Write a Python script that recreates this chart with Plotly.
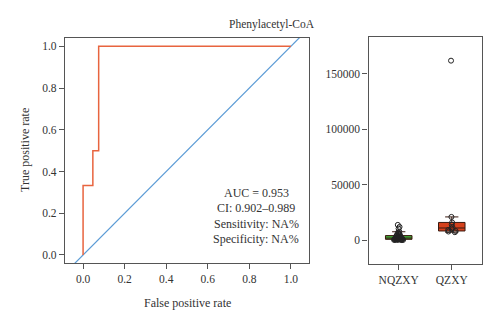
import plotly.graph_objects as go

# ---- data ----
roc_fpr = [0.0, 0.0, 0.047, 0.047, 0.075, 0.075, 1.0]
roc_tpr = [0.0, 0.333, 0.333, 0.5, 0.5, 1.0, 1.0]
diag = [-0.2, 1.2]
roc_ticks = [0.0, 0.2, 0.4, 0.6, 0.8, 1.0]
roc_title = "Phenylacetyl-CoA"
roc_stats = ["AUC = 0.953", "CI: 0.902\u20130.989", "Sensitivity: NA%", "Specificity: NA%"]

groups = ["NQZXY", "QZXY"]
nqzxy = [150, 220, 250, 300, 350, 420, 500, 580, 650, 720, 800, 900, 1000, 1100,
         1200, 1300, 1400, 1500, 1650, 1800, 1950, 2100, 2300, 2500, 2700, 2900,
         3100, 3400, 3700, 4000, 4300, 4600, 5000, 5500, 6000, 6800, 7600,
         10500, 12000, 13800]
qzxy = [7200, 7800, 8300, 9200, 10500, 11500, 14000, 16000, 21000, 162000]
box_ticks = [0, 50000, 100000, 150000]

FONT = "Liberation Serif"
FRAME = "#555555"
TXT = "#333333"

fig = go.Figure()

fig.add_trace(go.Scatter(x=diag, y=diag, mode="lines",
                         line=dict(color="#5B9BD5", width=1.2),
                         xaxis="x", yaxis="y", showlegend=False, hoverinfo="skip"))
fig.add_trace(go.Scatter(x=roc_fpr, y=roc_tpr, mode="lines",
                         line=dict(color="#E8643F", width=1.5),
                         xaxis="x", yaxis="y", showlegend=False))

box_cols = ["#3FA535", "#D5411C"]
for name, vals, col in zip(groups, [nqzxy, qzxy], box_cols):
    fig.add_trace(go.Box(y=vals, x=[name] * len(vals), name=name,
                         xaxis="x2", yaxis="y2",
                         fillcolor=col, line=dict(color="#3a1a10", width=1),
                         boxpoints="all", jitter=0.45, pointpos=0,
                         marker=dict(symbol="circle-open", color="#222222", size=5,
                                     line=dict(width=1)),
                         whiskerwidth=0.5, width=0.5, showlegend=False))

axis_common = dict(showgrid=False, zeroline=False, showline=True, mirror=True,
                   linecolor=FRAME, linewidth=1.2, ticks="outside", ticklen=5,
                   tickcolor=FRAME, tickfont=dict(family=FONT, size=11.5, color=TXT))

fig.update_layout(
    width=500, height=327,
    margin=dict(l=0, r=0, t=0, b=0),
    paper_bgcolor="white", plot_bgcolor="white",
    font=dict(family=FONT, color=TXT),
    xaxis=dict(domain=[0.130, 0.618], range=[-0.087, 1.087],
               tickvals=roc_ticks, tickformat=".1f", anchor="y", **axis_common),
    yaxis=dict(domain=[0.196, 0.884], range=[-0.038, 1.040],
               tickvals=roc_ticks, tickformat=".1f", anchor="x", **axis_common),
    xaxis2=dict(domain=[0.737, 0.964], range=[-0.57, 1.57], type="category",
                categoryorder="array", categoryarray=groups, anchor="y2",
                **axis_common),
    yaxis2=dict(domain=[0.193, 0.886], range=[-21400, 183100],
                tickvals=box_ticks, tickformat="d", anchor="x2", **axis_common),
)

fig.add_annotation(text=roc_title, xref="paper", yref="paper",
                   x=272 / 500, y=1 - 24 / 327, showarrow=False,
                   xanchor="center", yanchor="middle",
                   font=dict(family=FONT, size=11.5, color=TXT))
fig.add_annotation(text="False positive rate", xref="paper", yref="paper",
                   x=187 / 500, y=1 - 303 / 327, showarrow=False,
                   xanchor="center", yanchor="middle",
                   font=dict(family=FONT, size=12, color=TXT))
fig.add_annotation(text="True positive rate", xref="paper", yref="paper",
                   x=25 / 500, y=1 - 150 / 327, textangle=-90, showarrow=False,
                   xanchor="center", yanchor="middle",
                   font=dict(family=FONT, size=12, color=TXT))
for i, s in enumerate(roc_stats):
    fig.add_annotation(text=s, xref="paper", yref="paper",
                       x=256 / 500, y=1 - (193 + 15.3 * i) / 327, showarrow=False,
                       xanchor="center", yanchor="middle",
                       font=dict(family=FONT, size=12, color=TXT))

fig.write_html("out.html")
